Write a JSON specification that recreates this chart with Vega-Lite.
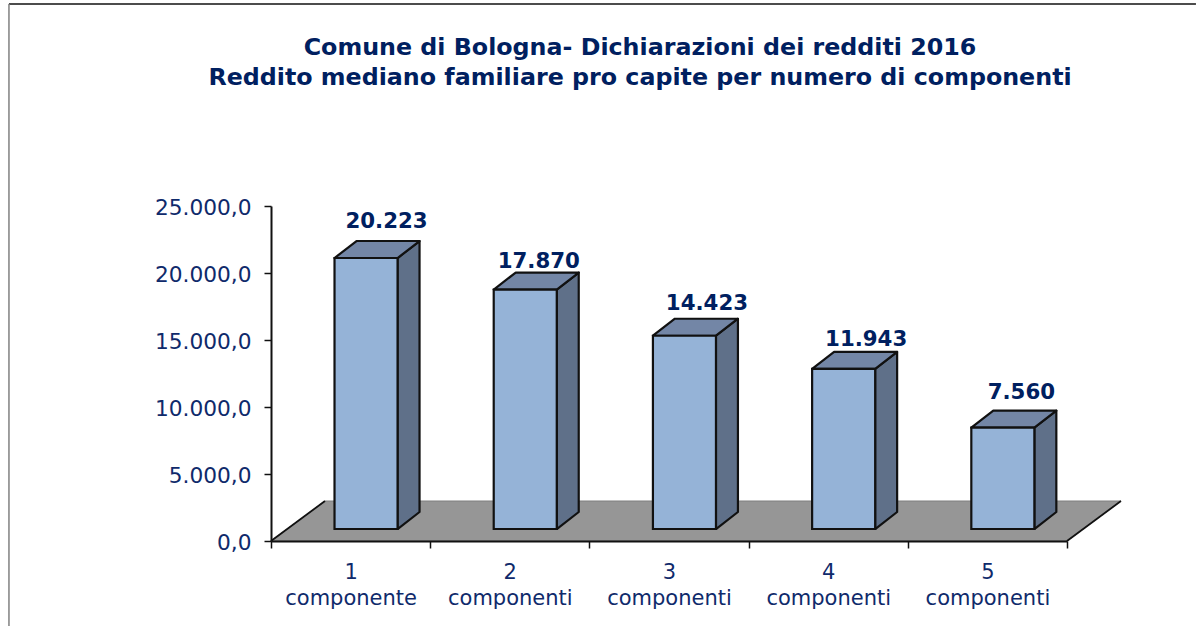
{
"$schema":"https://vega.github.io/schema/vega-lite/v6.json",
"width":796,"height":335,
"autosize":{"type":"none"},
"padding":{"left":271,"top":206,"right":129,"bottom":85},
"background":"white",
"config":{"view":{"stroke":null},"font":"DejaVu Sans","locale":{"number":{"decimal":",","thousands":".","grouping":[3],"currency":["","€"]}}},
"title":{"text":["Comune di Bologna- Dichiarazioni dei redditi 2016","Reddito mediano familiare pro capite per numero di componenti"],"anchor":"middle","frame":"group","dx":-29,"offset":-87,"fontSize":23.75,"font":"DejaVu Sans","fontWeight":"bold","color":"#002060","lineHeight":30.5},
"resolve":{"scale":{"x":"independent"}},
"layer":[
{"data":{"values":[{}]},
 "layer":[
  {"mark":{"type":"rule","stroke":"#111111","strokeWidth":1.5},"encoding":{"x":{"datum":-1.146,"scale":{"domain":[0.5,5.5]},"axis":null},"x2":{"datum":6.31},"y":{"datum":40075,"scale":{"domain":[0,25000]}}}},
  {"mark":{"type":"rule","stroke":"#808080","strokeWidth":1.5},"encoding":{"x":{"datum":-1.146,"scale":{"domain":[0.5,5.5]},"axis":null},"y":{"datum":40075,"scale":{"domain":[0,25000]}},"y2":{"datum":-6343}}}
 ]},
{"data":{"values":[{"level":0,"xStart":0.5,"xEnd":5.5},{"level":2985,"xStart":0.839,"xEnd":5.839}]},
 "layer":[
  {"mark":{"type":"area","orient":"horizontal","fill":"#969696","stroke":"#7f7f7f","strokeWidth":1},
   "encoding":{"y":{"field":"level","type":"quantitative","scale":{"domain":[0,25000]},"axis":{"title":null,"values":[0,5000,10000,15000,20000,25000],"format":",.1f","grid":false,"tickSize":7,"tickColor":"#111111","domainColor":"#111111","domainWidth":2,"tickWidth":1.5,"labelFontSize":21.7,"labelFont":"DejaVu Sans","labelColor":"#0f2a6b","labelPadding":13,"labelOffset":1.5,"zindex":1}},
    "x":{"field":"xStart","type":"quantitative","scale":{"domain":[0.5,5.5]},"axis":null},"x2":{"field":"xEnd"}}},
  {"mark":{"type":"line","stroke":"#111111","strokeWidth":1.8},"encoding":{"x":{"field":"xStart","type":"quantitative","scale":{"domain":[0.5,5.5]},"axis":null},"y":{"field":"level","type":"quantitative","scale":{"domain":[0,25000]}}}},
  {"mark":{"type":"line","stroke":"#111111","strokeWidth":1.8},"encoding":{"x":{"field":"xEnd","type":"quantitative","scale":{"domain":[0.5,5.5]},"axis":null},"y":{"field":"level","type":"quantitative","scale":{"domain":[0,25000]}}}}
 ]},
{"data":{"values":[{"n":1,"label":"1 componente","value":20223},{"n":2,"label":"2 componenti","value":17870},{"n":3,"label":"3 componenti","value":14423},{"n":4,"label":"4 componenti","value":11943},{"n":5,"label":"5 componenti","value":7560}]},
 "transform":[
  {"calculate":"datum.n+0.097-0.198","as":"xl"},
  {"calculate":"datum.n+0.097+0.198","as":"xr"},
  {"calculate":"datum.value+895","as":"top"},
  {"calculate":"895","as":"base"}
 ],
 "layer":[
  {"transform":[{"calculate":"[0,1]","as":"c"},{"flatten":["c"]},{"calculate":"datum.xr+datum.c*0.138","as":"px"},{"calculate":"datum.base+datum.c*1269","as":"py"},{"calculate":"datum.top+datum.c*1269","as":"py2"}],
   "mark":{"type":"area","orient":"vertical","fill":"#5f7089","stroke":"#111111","strokeWidth":2.2,"strokeJoin":"round"},
   "encoding":{"detail":{"field":"n"},"x":{"field":"px","type":"quantitative","scale":{"domain":[0.5,5.5]},"axis":null},"y":{"field":"py","type":"quantitative","scale":{"domain":[0,25000]}},"y2":{"field":"py2"}}},
  {"transform":[{"calculate":"[0,1]","as":"c"},{"flatten":["c"]},{"calculate":"datum.xl+datum.c*0.138","as":"px"},{"calculate":"datum.xr+datum.c*0.138","as":"px2"},{"calculate":"datum.top+datum.c*1269","as":"py"}],
   "mark":{"type":"area","orient":"horizontal","fill":"#7386a6","stroke":"#111111","strokeWidth":2.2,"strokeJoin":"round"},
   "encoding":{"detail":{"field":"n"},"y":{"field":"py","type":"quantitative","scale":{"domain":[0,25000]}},"x":{"field":"px","type":"quantitative","scale":{"domain":[0.5,5.5]},"axis":null},"x2":{"field":"px2"}}},
  {"mark":{"type":"rect","fill":"#95b3d7","stroke":"#111111","strokeWidth":2.2},
   "encoding":{"x":{"field":"xl","type":"quantitative","scale":{"domain":[0.5,5.5]},"axis":null},"x2":{"field":"xr"},"y":{"field":"base","type":"quantitative","scale":{"domain":[0,25000]}},"y2":{"field":"top"}}},
  {"transform":[{"calculate":"datum.n+0.094+[21,14,23,23,19][datum.n-1]/159.2","as":"tx"},{"calculate":"datum.top+1269+[0.95,0.37,0.67,0.45,0.9][datum.n-1]*1000","as":"ty"}],
   "mark":{"type":"text","fontWeight":"bold","fontSize":21.3,"font":"DejaVu Sans","color":"#002060","baseline":"alphabetic","align":"center"},
   "encoding":{"x":{"field":"tx","type":"quantitative","scale":{"domain":[0.5,5.5]},"axis":null},"y":{"field":"ty","type":"quantitative","scale":{"domain":[0,25000]}},"text":{"field":"value","type":"quantitative","format":","}}},
  {"mark":{"type":"text","opacity":0},
   "encoding":{"x":{"field":"label","type":"nominal","sort":null,"scale":{"padding":0,"paddingInner":0,"paddingOuter":0},"axis":{"title":null,"labelAngle":0,"tickBand":"extent","tickSize":7,"tickColor":"#111111","tickWidth":1.5,"domainColor":"#111111","domainWidth":2,"labelFontSize":21,"labelFont":"DejaVu Sans","labelColor":"#0f2a6b","labelPadding":13,"labelLineHeight":26,"labelExpr":"datum.value ? split(datum.value,' ') : ''","zindex":1,"grid":false}},"text":{"field":"label"}}}
 ]}
]
}
